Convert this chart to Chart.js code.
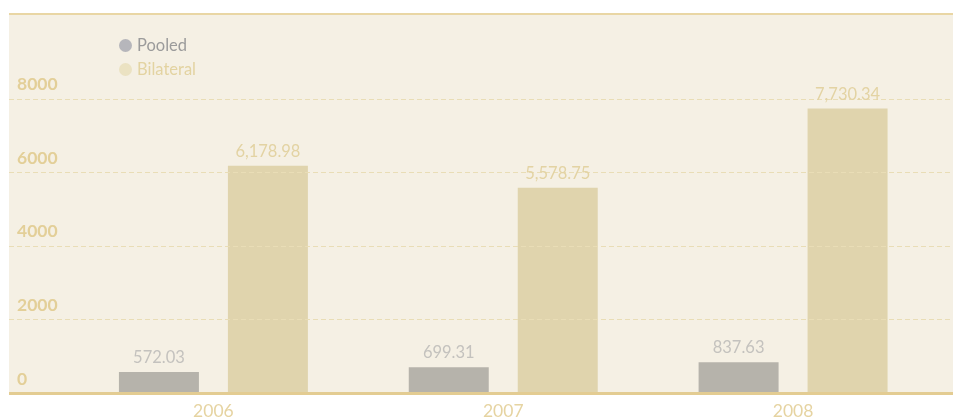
<!DOCTYPE html>
<html>
<head>
<meta charset="utf-8">
<script src="https://cdn.jsdelivr.net/npm/chart.js"></script>
<style>
  html, body { margin: 0; padding: 0; background: #fff; }
  #wrap { position: relative; width: 953px; height: 419px; }
  #legend { position: absolute; left: 119px; top: 33px; font-family: Lato, sans-serif; font-size: 16.5px; line-height: 24px; }
  #legend div { display: flex; align-items: center; white-space: nowrap; }
  #legend span.dot { width: 13px; height: 13px; border-radius: 50%; margin-right: 5px; display: inline-block; }
</style>
</head>
<body>
<div id="wrap">
  <canvas id="chart" width="953" height="419"></canvas>
  <div id="legend"></div>
</div>
<script>
  const years = ['2006', '2007', '2008'];
  const pooled = [572.03, 699.31, 837.63];
  const bilateral = [6178.98, 5578.75, 7730.34];
  const yTicks = [0, 2000, 4000, 6000, 8000];

  const seriesNames = ['Pooled', 'Bilateral'];
  const barColors = ['#b6b3ab', '#e0d4ad'];
  const dotColors = ['#b6b6bb', '#ebe2c2'];
  const textColors = ['#9b9b9b', '#e3d3a1'];
  const valueColors = ['#c4c2be', '#e3d3a3'];

  const PLOT_LEFT = 9;
  const BG = '#f5f0e4';
  const GOLD = '#e3cc92';

  // legend as html
  const legend = document.getElementById('legend');
  seriesNames.forEach((name, i) => {
    const row = document.createElement('div');
    row.innerHTML = `<span class="dot" style="background:${dotColors[i]}"></span><span style="color:${textColors[i]}">${name}</span>`;
    legend.appendChild(row);
  });

  const fmt = (v) => v.toLocaleString('en-US', { minimumFractionDigits: 2, maximumFractionDigits: 2 });

  const plotDeco = {
    id: 'plotDeco',
    beforeDraw(chart) {
      const ctx = chart.ctx;
      const area = chart.chartArea;
      ctx.save();
      ctx.fillStyle = BG;
      ctx.fillRect(PLOT_LEFT, area.top, chart.width - PLOT_LEFT, area.bottom - area.top);
      ctx.restore();
    },
    afterDatasetsDraw(chart) {
      const ctx = chart.ctx;
      const area = chart.chartArea;
      const y = chart.scales.y;
      ctx.save();
      // dashed grid
      ctx.strokeStyle = '#e9ddb6';
      ctx.lineWidth = 1;
      ctx.setLineDash([5, 3]);
      y.ticks.forEach(t => {
        if (t.value === 0) return;
        const py = Math.round(y.getPixelForValue(t.value)) + 0.5;
        ctx.beginPath();
        ctx.moveTo(PLOT_LEFT, py);
        ctx.lineTo(chart.width, py);
        ctx.stroke();
      });
      ctx.setLineDash([]);
      // top border
      ctx.strokeStyle = '#e9d6a4';
      ctx.lineWidth = 2;
      ctx.beginPath();
      ctx.moveTo(PLOT_LEFT, area.top);
      ctx.lineTo(chart.width, area.top);
      ctx.stroke();
      // bottom axis line
      ctx.strokeStyle = GOLD;
      ctx.lineWidth = 3;
      const by = y.getPixelForValue(0) + 0.5;
      ctx.beginPath();
      ctx.moveTo(PLOT_LEFT, by);
      ctx.lineTo(chart.width, by);
      ctx.stroke();

      // value labels
      ctx.font = '400 16.5px Lato, sans-serif';
      ctx.textAlign = 'center';
      ctx.textBaseline = 'bottom';
      chart.data.datasets.forEach((ds, di) => {
        const meta = chart.getDatasetMeta(di);
        ctx.fillStyle = valueColors[di];
        meta.data.forEach((bar, i) => {
          ctx.fillText(fmt(ds.data[i]), bar.x, bar.y - 6);
        });
      });
      ctx.restore();
    }
  };

  new Chart(document.getElementById('chart').getContext('2d'), {
    type: 'bar',
    data: {
      labels: years,
      datasets: [
        { label: seriesNames[0], data: pooled, backgroundColor: barColors[0] },
        { label: seriesNames[1], data: bilateral, backgroundColor: barColors[1] }
      ]
    },
    options: {
      responsive: false,
      animation: false,
      layout: { padding: { left: 17, right: 15, top: 14, bottom: 0 } },
      datasets: { bar: { categoryPercentage: 0.752, barPercentage: 0.734 } },
      plugins: { legend: { display: false }, tooltip: { enabled: false } },
      scales: {
        x: {
          grid: { display: false },
          border: { display: false },
          ticks: { color: '#e6d4a2', font: { family: 'Lato', size: 17.5, weight: '400' }, padding: 0 },
          afterFit(scale) { scale.height = 26; }
        },
        y: {
          min: 0,
          max: 10300,
          grid: { display: false },
          border: { display: false },
          afterBuildTicks(scale) { scale.ticks = yTicks.map(v => ({ value: v })); },
          afterFit(scale) { scale.width = 51.5; },
          ticks: {
            crossAlign: 'far',
            labelOffset: -14,
            color: '#e3cf98',
            font: { family: 'Lato', size: 17.5, weight: 'bold' },
            callback: (v) => String(v)
          }
        }
      }
    },
    plugins: [plotDeco]
  });
</script>
</body>
</html>
